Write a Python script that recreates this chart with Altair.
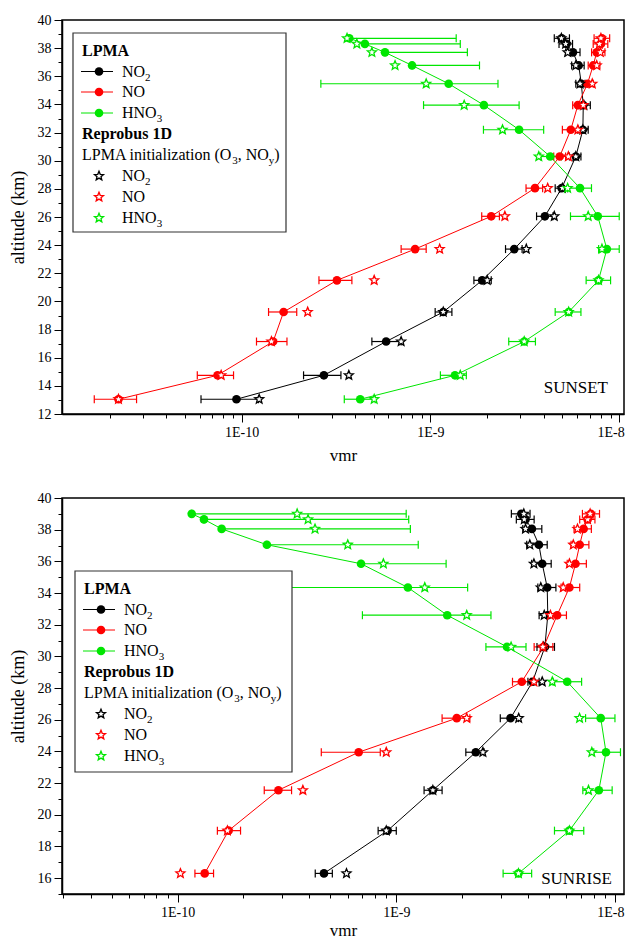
import altair as alt
import pandas as pd

FONT = "Liberation Serif"
BLACK, RED, GREEN = "#000000", "#ff0000", "#00e600"

# ---------------- SUNSET (top panel) ----------------
ss_alt = [13.05, 14.75, 17.15, 19.25, 21.5, 23.72, 26.05, 28.05, 30.3, 32.2, 33.95, 35.47, 36.77, 37.7, 38.3, 38.7]

ss_no2 = [9.4e-11, 2.73e-10, 5.83e-10, 1.17e-9, 1.88e-9, 2.78e-9, 4.04e-9, 4.96e-9, 5.89e-9, 6.42e-9, 6.45e-9, 6.3e-9, 6.1e-9, 5.69e-9, 5.26e-9, 4.96e-9]
ss_no2_lo = [6.1e-11, 2.13e-10, 4.9e-10, 1.06e-9, 1.7e-9, 2.5e-9, 3.65e-9, 4.58e-9, 5.45e-9, 6.04e-9, 6.04e-9, 5.89e-9, 5.6e-9, 5.2e-9, 4.8e-9, 4.53e-9]
ss_no2_hi = [1.23e-10, 3.36e-10, 7.0e-10, 1.3e-9, 2.1e-9, 3.06e-9, 4.46e-9, 5.33e-9, 6.27e-9, 6.85e-9, 7.03e-9, 6.59e-9, 6.52e-9, 6.2e-9, 5.66e-9, 5.45e-9]
ss_no2_mod = [1.24e-10, 3.7e-10, 7.0e-10, 1.17e-9, 2.0e-9, 3.22e-9, 4.53e-9, 5.0e-9, 5.89e-9, 6.42e-9, 6.5e-9, 6.2e-9, 5.89e-9, 5.33e-9, 5.2e-9, 4.94e-9]

ss_no = [2.23e-11, 7.46e-11, 1.47e-10, 1.67e-10, 3.2e-10, 8.3e-10, 2.1e-9, 3.58e-9, 4.84e-9, 5.54e-9, 6.04e-9, 6.79e-9, 7.28e-9, 7.6e-9, 8.0e-9, 8.1e-9]
ss_no_lo = [1.66e-11, 5.83e-11, 1.2e-10, 1.39e-10, 2.57e-10, 7.0e-10, 1.87e-9, 3.21e-9, 4.5e-9, 5.0e-9, 5.67e-9, 6.35e-9, 6.85e-9, 7.14e-9, 7.28e-9, 7.36e-9]
ss_no_hi = [2.78e-11, 9.07e-11, 1.74e-10, 1.96e-10, 3.84e-10, 9.5e-10, 2.32e-9, 3.93e-9, 5.2e-9, 6.04e-9, 6.52e-9, 7.28e-9, 7.9e-9, 8.4e-9, 8.7e-9, 8.9e-9]
ss_no_mod = [2.23e-11, 7.8e-11, 1.44e-10, 2.24e-10, 5.04e-10, 1.12e-9, 2.48e-9, 4.18e-9, 5.38e-9, 6.04e-9, 6.45e-9, 7.2e-9, 7.6e-9, 7.95e-9, 7.85e-9, 8.0e-9]

ss_hno3 = [4.25e-10, 1.35e-9, 3.14e-9, 5.4e-9, 7.77e-9, 8.6e-9, 7.7e-9, 6.2e-9, 4.31e-9, 2.95e-9, 1.92e-9, 1.25e-9, 8.0e-10, 5.75e-10, 4.5e-10, 3.72e-10]
ss_hno3_lo = [3.5e-10, 1.13e-9, 2.6e-9, 4.58e-9, 6.68e-9, 7.78e-9, 5.52e-9, 5.33e-9, 3.84e-9, 1.91e-9, 9.2e-10, 2.63e-10, 8.0e-10, 5.75e-10, 4.5e-10, 3.72e-10]
ss_hno3_hi = [5.1e-10, 1.55e-9, 3.6e-9, 6.27e-9, 9.0e-9, 1.0e-8, 1.0e-8, 7.13e-9, 4.94e-9, 3.98e-9, 2.95e-9, 2.28e-9, 1.82e-9, 1.57e-9, 1.44e-9, 1.37e-9]
ss_hno3_mod = [5.04e-10, 1.44e-9, 3.14e-9, 5.4e-9, 7.77e-9, 8.1e-9, 6.85e-9, 5.33e-9, 3.75e-9, 2.41e-9, 1.51e-9, 9.5e-10, 6.5e-10, 4.9e-10, 4.08e-10, 3.62e-10]

# ---------------- SUNRISE (bottom panel) ----------------
sr_alt = [16.3, 19.0, 21.55, 23.95, 26.1, 28.4, 30.6, 32.6, 34.35, 35.85, 37.05, 38.05, 38.65, 39.0]

sr_no2 = [4.67e-10, 9.12e-10, 1.47e-9, 2.31e-9, 3.33e-9, 4.2e-9, 4.78e-9, 4.93e-9, 4.9e-9, 4.65e-9, 4.49e-9, 4.17e-9, 3.9e-9, 3.73e-9]
sr_no2_lo = [4.26e-10, 8.26e-10, 1.34e-9, 2.08e-9, 2.99e-9, 4.0e-9, 4.4e-9, 4.5e-9, 4.44e-9, 4.16e-9, 3.95e-9, 3.79e-9, 3.54e-9, 3.36e-9]
sr_no2_hi = [5.1e-10, 1.0e-9, 1.62e-9, 2.52e-9, 3.62e-9, 4.5e-9, 5.29e-9, 5.44e-9, 5.37e-9, 5.11e-9, 4.9e-9, 4.63e-9, 4.27e-9, 4.09e-9]
sr_no2_mod = [5.92e-10, 9.0e-10, 1.47e-9, 2.49e-9, 3.63e-9, 4.65e-9, 4.72e-9, 4.75e-9, 4.58e-9, 4.26e-9, 4.08e-9, 3.9e-9, 3.85e-9, 3.83e-9]

sr_no = [1.33e-10, 1.71e-10, 2.89e-10, 6.73e-10, 1.89e-9, 3.75e-9, 4.72e-9, 5.44e-9, 6.19e-9, 6.6e-9, 6.9e-9, 7.19e-9, 7.5e-9, 7.76e-9]
sr_no_lo = [1.2e-10, 1.52e-10, 2.49e-10, 4.54e-10, 1.62e-9, 3.4e-9, 4.27e-9, 4.89e-9, 5.67e-9, 6.05e-9, 6.3e-9, 6.5e-9, 6.9e-9, 7.1e-9]
sr_no_hi = [1.46e-10, 1.94e-10, 3.32e-10, 8.45e-10, 2.17e-9, 4.12e-9, 5.2e-9, 6.0e-9, 6.9e-9, 7.4e-9, 7.6e-9, 7.8e-9, 8.1e-9, 8.5e-9]
sr_no_mod = [1.03e-10, 1.69e-10, 3.74e-10, 9.0e-10, 2.1e-9, 4.26e-9, 4.68e-9, 5.07e-9, 5.8e-9, 6.19e-9, 6.45e-9, 6.74e-9, 7.5e-9, 7.7e-9]

sr_hno3 = [3.62e-9, 6.19e-9, 8.44e-9, 9.1e-9, 8.61e-9, 6.05e-9, 3.21e-9, 1.71e-9, 1.13e-9, 6.9e-10, 2.56e-10, 1.59e-10, 1.32e-10, 1.16e-10]
sr_hno3_lo = [3.08e-9, 5.29e-9, 7.13e-9, 8.0e-9, 7.34e-9, 5.21e-9, 2.57e-9, 7.0e-10, 2.5e-10, 6.9e-10, 2.56e-10, 1.59e-10, 1.32e-10, 1.16e-10]
sr_hno3_hi = [4.16e-9, 7.2e-9, 9.71e-9, 1.06e-8, 1.0e-8, 7.04e-9, 3.92e-9, 2.71e-9, 2.12e-9, 1.69e-9, 1.26e-9, 1.16e-9, 1.14e-9, 1.11e-9]
sr_hno3_mod = [3.62e-9, 6.19e-9, 7.57e-9, 7.84e-9, 6.89e-9, 5.17e-9, 3.35e-9, 2.1e-9, 1.35e-9, 8.73e-10, 6.0e-10, 4.25e-10, 3.95e-10, 3.52e-10]

STAR = ("M0,-1L0.26,-0.36L0.951,-0.309L0.42,0.137L0.588,0.809L0,0.44"
        "L-0.588,0.809L-0.42,0.137L-0.951,-0.309L-0.26,-0.36Z")


def table(alts, series):
    rows = []
    for name, color, v, lo, hi, mod in series:
        for i, a in enumerate(alts):
            rows.append(dict(species=name, color=color, alt=a, lpma=v[i],
                             lo=lo[i], hi=hi[i], model=mod[i]))
    return pd.DataFrame(rows)


ss_df = table(ss_alt, [
    ("NO2", BLACK, ss_no2, ss_no2_lo, ss_no2_hi, ss_no2_mod),
    ("NO", RED, ss_no, ss_no_lo, ss_no_hi, ss_no_mod),
    ("HNO3", GREEN, ss_hno3, ss_hno3_lo, ss_hno3_hi, ss_hno3_mod),
])
sr_df = table(sr_alt, [
    ("NO2", BLACK, sr_no2, sr_no2_lo, sr_no2_hi, sr_no2_mod),
    ("NO", RED, sr_no, sr_no_lo, sr_no_hi, sr_no_mod),
    ("HNO3", GREEN, sr_hno3, sr_hno3_lo, sr_hno3_hi, sr_hno3_mod),
])

dummy = pd.DataFrame({"d": [0]})
IS_DECADE = "abs(log(datum.value)/LN10 - round(log(datum.value)/LN10)) < 0.001"


def xticks(lo, hi):
    vals = []
    for e in (-12, -11, -10, -9, -8):
        for k in range(1, 10):
            v = float(f"{k}e{e}")
            if lo <= v <= hi:
                vals.append(v)
    return vals


def panel(df, xdom, ydom, width, height, label, label_xy, box, flush_off, xtitle_pad):
    common = dict(labelFont=FONT, labelFontSize=14, labelColor="black",
                  titleFont=FONT, titleFontWeight="normal", titleColor="black",
                  domainColor="black", domainWidth=1.5, tickColor="black", tickWidth=1,
                  labelOverlap=False, labelPadding=3, grid=False)
    xaxis = alt.Axis(
        values=xticks(*xdom), title="vmr", titleFontSize=17, titlePadding=xtitle_pad,
        labelExpr=f"{IS_DECADE} ? '1E' + round(log(datum.value)/LN10) : ''",
        tickSize={"condition": {"test": IS_DECADE, "value": 8}, "value": 4},
        labelFlush=10, labelFlushOffset=flush_off, **common)
    yaxis = alt.Axis(
        values=list(range(ydom[0], ydom[1] + 1)), title="altitude (km)",
        titleFontSize=18, titlePadding=10,
        labelExpr="datum.value % 2 == 0 ? datum.value : ''",
        tickSize={"condition": {"test": "datum.value % 2 == 0", "value": 8}, "value": 4},
        labelFlush=False, **common)
    xs = alt.Scale(type="log", domain=list(xdom), nice=False)
    ys = alt.Scale(domain=list(ydom), nice=False, zero=False)
    Y = alt.Y("alt:Q", scale=ys, axis=yaxis)
    col = alt.Color("color:N", scale=None)

    base = alt.Chart(df)
    lines = base.mark_line(strokeWidth=1).encode(
        x=alt.X("lpma:Q", scale=xs, axis=xaxis), y=Y, color=col,
        detail="species:N", order=alt.Order("alt:Q"))
    bars = base.mark_rule(strokeWidth=1.2).encode(
        x=alt.X("lo:Q", scale=xs, axis=xaxis), x2="hi:Q", y=Y, color=col)
    caps = base.transform_fold(["lo", "hi"], as_=["k", "v"]).mark_tick(
        orient="vertical", size=8, thickness=1.2, opacity=1).encode(
        x=alt.X("v:Q", scale=xs, axis=xaxis), y=Y, color=col)
    circles = base.mark_point(shape="circle", filled=True, size=75, opacity=1).encode(
        x=alt.X("lpma:Q", scale=xs, axis=xaxis), y=Y, color=col)
    stars = base.mark_point(shape=STAR, filled=True, fill="white", size=90,
                            strokeWidth=1.3, opacity=1).encode(
        x=alt.X("model:Q", scale=xs, axis=xaxis), y=Y, stroke=alt.Stroke("color:N", scale=None))

    # legend box (layout in pixels)
    bx, by, bw, bh = box
    leg = [alt.Chart(dummy).mark_rect(fill="white", stroke="#333333", strokeWidth=1.2).encode(
        x=alt.value(bx), x2=alt.value(bx + bw), y=alt.value(by), y2=alt.value(by + bh))]

    def txt(x, y, s, size=16, bold=False, color="black"):
        return alt.Chart(dummy).mark_text(
            text=s, align="left", baseline="middle", font=FONT, fontSize=size,
            fontWeight="bold" if bold else "normal", color=color).encode(
            x=alt.value(x), y=alt.value(y))

    def formula(x, y, parts):
        out = []
        for s, sub, w in parts:
            if sub:
                out.append(txt(x, y + 6, s, size=11))
            else:
                out.append(txt(x, y, s))
            x += w
        return out

    tx = bx + 9
    rows = [by + 18, by + 38.5, by + 59, by + 80, by + 101, by + 121.5, by + 143, by + 164, by + 185]
    leg.append(txt(tx, rows[0], "LPMA", bold=True))
    names = [("NO", "2", 23.1), ("NO", "", 23.1), ("HNO", "3", 34.7)]
    colors = [BLACK, RED, GREEN]
    for i in range(3):
        y = rows[1 + i]
        leg.append(alt.Chart(dummy).mark_rule(color=colors[i], strokeWidth=1).encode(
            x=alt.value(bx + 8), x2=alt.value(bx + 40), y=alt.value(y)))
        leg.append(alt.Chart(dummy).mark_point(shape="circle", filled=True, size=75, opacity=1,
                                               color=colors[i]).encode(
            x=alt.value(bx + 26), y=alt.value(y)))
        n, s, w = names[i]
        leg += formula(bx + 49, y, [(n, False, w), (s, True, 6)])
        ys_ = rows[6 + i]
        leg.append(alt.Chart(dummy).mark_point(shape=STAR, filled=True, fill="white", size=90,
                                               strokeWidth=1.3, opacity=1, stroke=colors[i]).encode(
            x=alt.value(bx + 26), y=alt.value(ys_)))
        leg += formula(bx + 49, ys_, [(n, False, w), (s, True, 6)])
    leg.append(txt(tx, rows[4], "Reprobus 1D", bold=True))
    leg += formula(tx, rows[5], [("LPMA initialization (O", False, 150.2), ("3", True, 5.5),
                                 (", NO", False, 31.1), ("y", True, 5.5), (")", False, 6)])

    lab = alt.Chart(dummy).mark_text(text=label, align="right", baseline="middle", font=FONT,
                                     fontSize=17).encode(x=alt.value(label_xy[0]), y=alt.value(label_xy[1]))

    return alt.layer(lines, bars, caps, circles, stars, *leg, lab).properties(
        width=width, height=height)


top = panel(ss_df, (1.12e-11, 1.06e-8), (12, 40), 562, 394, "SUNSET", (546, 368),
            (11, 13, 213, 199), 5, 8)
bottom = panel(sr_df, (2.96e-11, 1.1e-8), (15, 40), 562, 396, "SUNRISE", (550, 381),
               (13, 73, 217, 201), 9, 3)

chart = alt.vconcat(top, bottom, spacing=26).properties(
    padding={"left": 0, "top": 4, "right": 0, "bottom": 0}
).configure_view(stroke="black", strokeWidth=1.5)

chart.save("out.html", embed_options={"renderer": "svg", "actions": False})
